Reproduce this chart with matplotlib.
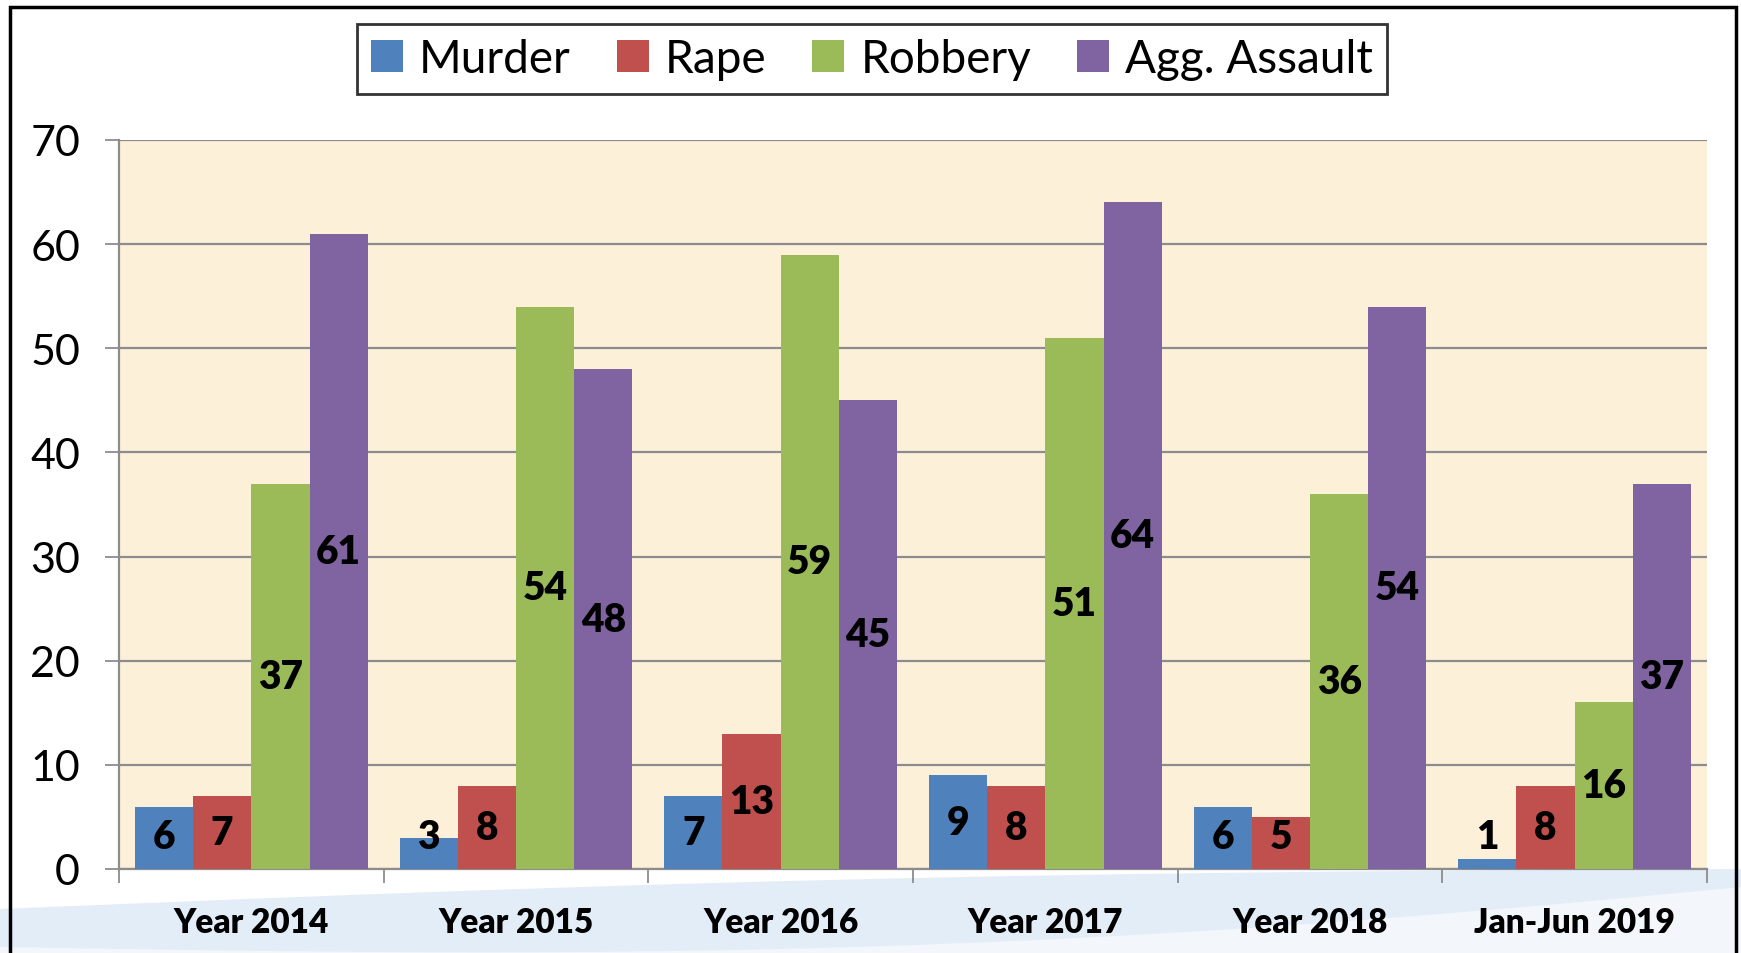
import matplotlib
matplotlib.use("Agg")
import matplotlib.pyplot as plt
import numpy as np
from matplotlib.patches import Rectangle

categories = ["Year 2014", "Year 2015", "Year 2016", "Year 2017", "Year 2018", "Jan-Jun 2019"]
series_names = ["Murder", "Rape", "Robbery", "Agg. Assault"]
murder = [6, 3, 7, 9, 6, 1]
rape = [7, 8, 13, 8, 5, 8]
robbery = [37, 54, 59, 51, 36, 16]
agg_assault = [61, 48, 45, 64, 54, 37]
yticks = [0, 10, 20, 30, 40, 50, 60, 70]

colors = ["#4F81BD", "#C0504D", "#9BBB59", "#8064A2"]
series = [murder, rape, robbery, agg_assault]

plt.rcParams['font.family'] = ['Lato', 'DejaVu Sans']

W, H = 1741, 954
fig = plt.figure(figsize=(W / 100, H / 100), dpi=100)
fig.patch.set_facecolor("white")

# decorative light-blue swoosh at the bottom (pixel rows measured from top)
xs = np.linspace(0, 1, 200)
top_px = 910 - 40 * xs - 10 * np.sin(np.pi * xs)
low_px = 948 - 40 * xs + 22 * np.sin(np.pi * xs) - 20 * xs ** 3
band = np.column_stack([np.r_[xs, xs[::-1]], 1 - np.r_[top_px, np.full_like(xs, 970)[::-1]] / H])
fig.patches.append(plt.Polygon(band, closed=True, transform=fig.transFigure,
                               facecolor="#E3EDF7", edgecolor="none", zorder=-5))
under = np.column_stack([np.r_[xs, xs[::-1]], 1 - np.r_[low_px, np.full_like(xs, 970)[::-1]] / H])
fig.patches.append(plt.Polygon(under, closed=True, transform=fig.transFigure,
                               facecolor="#F3F7FB", edgecolor="none", zorder=-4))

ax_left, ax_right, ax_top, ax_bot = 119, 1707, 141, 870
ax = fig.add_axes([ax_left / W, 1 - ax_bot / H, (ax_right - ax_left) / W, (ax_bot - ax_top) / H])
ax.set_facecolor("#FCF0D9")

x = np.arange(len(categories))
bw = 0.22
for i, (vals, c) in enumerate(zip(series, colors)):
    xp = x + (i - 1.5) * bw
    ax.bar(xp, vals, width=bw, color=c, edgecolor="none", zorder=3, label=series_names[i])
    for xi, v in zip(xp, vals):
        ax.text(xi, max(v / 2, 3.1), str(v), ha="center", va="center",
                fontsize=28, fontweight="heavy", color="black", zorder=4)

ax.set_xlim(-0.5, len(categories) - 0.5)
ax.set_ylim(0, 70)
ax.set_yticks(yticks)
ax.set_yticklabels([str(t) for t in yticks], fontsize=31)
ax.yaxis.grid(True, color="#8C8C8C", linewidth=1.6, zorder=1)
ax.set_axisbelow(True)

ax.set_xticks(x)
ax.set_xticklabels(categories, fontsize=24, fontweight="heavy")
ax.set_xticks(np.arange(len(categories) + 1) - 0.5, minor=True)
ax.tick_params(axis="x", which="major", length=0, pad=27)
ax.tick_params(axis="x", which="minor", length=10, width=1.3, color="#8C8C8C", direction="out")
ax.tick_params(axis="y", length=10, width=1.3, color="#8C8C8C", pad=18)

for s in ["top", "right"]:
    ax.spines[s].set_visible(False)
for s in ["left", "bottom"]:
    ax.spines[s].set_color("#8C8C8C")
    ax.spines[s].set_linewidth(1.6)

handles = [Rectangle((0, 0), 1, 1, facecolor=c, edgecolor="none") for c in colors]
leg = fig.legend(handles, series_names, loc="center", bbox_to_anchor=(872 / W, 1 - 60 / H),
                 ncol=4, fontsize=33, frameon=True, fancybox=False, edgecolor="black",
                 handlelength=0.7, handleheight=0.7, handletextpad=0.35, columnspacing=1.0,
                 borderpad=0.3)
leg.get_frame().set_linewidth(2)

# outer border
fig.patches.append(Rectangle((10 / W, -0.02), (1736 - 10) / W, 1 - 8 / H + 0.02,
                             transform=fig.transFigure, fill=False, edgecolor="black",
                             linewidth=2.5, zorder=10))

fig.savefig("out.png", dpi=100)
